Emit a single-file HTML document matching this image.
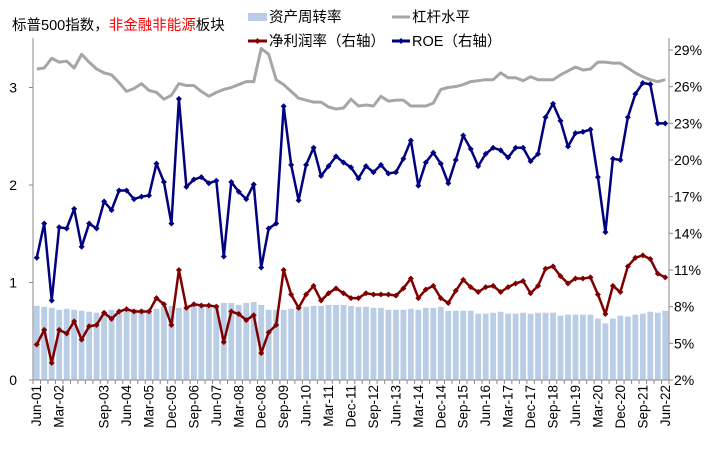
<!DOCTYPE html>
<html><head><meta charset="utf-8">
<style>
html,body{margin:0;padding:0;background:#fff;}
svg{display:block;font-family:"Liberation Sans","Noto Sans CJK SC",sans-serif;}
</style></head>
<body>
<svg id="chart" width="723" height="455" viewBox="0 0 723 455">
<text x="12" y="30" font-size="14.5" fill="#000">标普500指数，<tspan fill="#ff0000">非金融非能源</tspan>板块</text>
<g>
<rect x="248" y="13" width="19" height="8" fill="#b9cde6"/>
<text x="269" y="22" font-size="14.5">资产周转率</text>
<line x1="392" y1="17" x2="410" y2="17" stroke="#a6a6a6" stroke-width="3"/>
<text x="412" y="22" font-size="14.5">杠杆水平</text>
<line x1="248" y1="41" x2="267" y2="41" stroke="#800000" stroke-width="3"/>
<path d="M257.5 38 L260.5 41 L257.5 44 L254.5 41Z" fill="#800000"/>
<text x="269" y="46" font-size="14.5">净利润率（右轴）</text>
<line x1="392" y1="41" x2="410" y2="41" stroke="#000080" stroke-width="3"/>
<path d="M401 38 L404 41 L401 44 L398 41Z" fill="#000080"/>
<text x="412" y="46" font-size="14.5">ROE（右轴）</text>
</g>
<g id="plot"></g>
</svg>
<script>
const categories = (function(){const m=['Mar','Jun','Sep','Dec'];const out=[];let q=1,y=1;for(let i=0;i<85;i++){out.push(m[q]+'-'+String(y).padStart(2,'0'));q++;if(q>3){q=0;y++;}}return out;})();
const assetTurnover = [0.76,0.75,0.74,0.72,0.73,0.72,0.71,0.70,0.69,0.70,0.72,0.71,0.72,0.73,0.73,0.72,0.73,
0.76,0.76,0.74,0.74,0.76,0.76,0.76,0.77,0.79,0.79,0.77,0.79,0.80,0.77,0.72,0.72,0.72,0.73,0.75,0.75,0.76,0.76,0.77,0.77,
0.77,0.76,0.75,0.75,0.74,0.74,0.72,0.72,0.72,0.73,0.72,0.74,0.74,0.75,0.71,0.71,0.71,0.71,0.68,0.68,0.69,0.70,0.68,0.68,0.69,0.68,0.69,0.69,0.69,0.66,0.67,0.67,0.67,0.67,0.63,0.58,0.63,0.66,0.65,0.67,0.68,0.70,0.69,0.71];
const leverage = [3.19,3.20,3.30,3.26,3.27,3.20,3.34,3.26,3.19,3.15,3.13,3.05,2.96,2.99,3.04,2.97,2.95,2.88,2.92,3.04,3.02,3.02,2.96,2.91,2.95,2.98,3.00,3.03,3.06,3.06,3.40,3.34,3.08,3.03,2.96,2.89,2.87,2.85,2.85,2.80,2.78,
2.79,2.88,2.81,2.82,2.81,2.91,2.86,2.87,2.87,2.81,2.81,2.81,2.84,2.98,3.00,3.01,3.03,3.06,3.07,3.08,3.08,3.15,3.10,3.10,3.07,3.11,3.08,3.08,3.08,3.13,3.17,3.21,3.18,3.19,3.26,3.26,3.25,3.25,3.20,3.15,3.11,3.08,3.06,3.08];
const netMargin = [4.9,6.1,3.4,6.1,5.8,6.8,5.3,6.4,6.5,7.5,7.0,7.6,7.8,7.6,7.6,7.6,8.7,8.2,6.5,11.0,7.9,8.2,8.1,8.1,8.0,5.1,7.6,7.4,6.9,7.3,4.2,5.9,6.5,11.0,9.0,7.9,9.0,9.7,8.5,9.1,9.5,
9.1,8.7,8.7,9.1,9.0,9.0,9.0,8.9,9.5,10.3,8.7,9.4,9.7,8.7,8.3,9.3,10.2,9.6,9.2,9.6,9.7,9.2,9.6,9.9,10.1,9.1,9.7,11.1,11.3,10.5,9.9,10.3,10.3,10.4,9.0,7.4,9.7,9.2,11.3,12.0,12.2,11.9,10.7,10.4];
const roe = [12.0,14.8,8.5,14.5,14.4,16.0,12.9,14.8,14.4,16.6,15.9,17.5,17.5,16.8,17.0,17.1,19.7,18.2,14.8,25.0,17.8,18.4,18.6,18.1,18.3,12.1,18.2,17.4,16.8,18.0,11.2,14.4,14.8,24.4,19.6,16.7,19.6,21.0,18.7,19.5,20.3,
19.8,19.4,18.5,19.5,19.0,19.6,18.9,19.0,20.1,21.6,17.9,19.8,20.6,19.7,18.1,20.0,22.0,20.9,19.5,20.5,21.0,20.8,20.2,21.0,21.0,19.9,20.5,23.5,24.6,23.2,21.1,22.2,22.3,22.5,18.6,14.1,20.1,20.0,23.5,25.4,26.3,26.2,23.0,23.0];
const leftTicks = [0,1,2,3];
const rightTicks = [2,5,8,11,14,17,20,23,26,29];

const X0=33,X1=669,Y0=380;
const n=categories.length, bw=(X1-X0)/n;
function xPos(i){return X0+bw*(i+0.5);}
function yL(v){return Y0-v*97.5;}
function yR(v){return Y0-(v-2)*(330/27);}
const NS='http://www.w3.org/2000/svg';
const plot=document.getElementById('plot');
function mk(tag,attrs,parent){const e=document.createElementNS(NS,tag);for(const k in attrs)e.setAttribute(k,attrs[k]);(parent||plot).appendChild(e);return e;}

// bars
const gb=mk('g',{});


assetTurnover.forEach((v,i)=>{
  const r=mk('rect',{x:xPos(i)-2.9,y:yL(v),width:5.8,height:Y0-yL(v),fill:'#b9cde6'},gb);
  
  
});
// axes
const ax=mk('g',{stroke:'#888','stroke-width':1});


mk('line',{x1:X0,y1:38,x2:X0,y2:Y0},ax);
mk('line',{x1:X1,y1:38,x2:X1,y2:Y0},ax);
mk('line',{x1:X0,y1:Y0,x2:X1,y2:Y0},ax);
leftTicks.forEach(t=>{
  mk('line',{x1:X0-4,y1:yL(t),x2:X0,y2:yL(t)},ax);
  const tx=mk('text',{x:17,y:yL(t)+5,'font-size':14,'text-anchor':'end',fill:'#000',stroke:'none'});
  tx.textContent=t;
  
  
});
rightTicks.forEach(t=>{
  mk('line',{x1:X1,y1:yR(t),x2:X1+4,y2:yR(t)},ax);
  const tx=mk('text',{x:674,y:yR(t)+5,'font-size':14,fill:'#000',stroke:'none'});
  tx.textContent=t+'%';
  
  
});
for(let i=0;i<=n;i++){mk('line',{x1:X0+bw*i,y1:Y0,x2:X0+bw*i,y2:Y0+4},ax);}
categories.forEach((c,i)=>{
  if(i%3!==0||i===6)return;
  const x=xPos(i)+4.5,y=Y0+5;
  const tx=mk('text',{x:x,y:y,'font-size':13.5,'text-anchor':'end',fill:'#000',transform:`rotate(-90 ${x} ${y})`});
  tx.textContent=c;
  
  
});
function line(vals,yf,color,w,name,marker){
  const pts=vals.map((v,i)=>xPos(i).toFixed(2)+','+yf(v).toFixed(2)).join(' ');
  const g=mk('g',{});
  
  
  mk('polyline',{points:pts,fill:'none',stroke:color,'stroke-width':w,'stroke-linejoin':'round'},g);
  if(marker){vals.forEach((v,i)=>{const x=xPos(i),y=yf(v);
    const p=mk('path',{d:`M${x} ${y-3}L${x+3} ${y}L${x} ${y+3}L${x-3} ${y}Z`,fill:color},g);
    
    });}
}
line(leverage,yL,'#a6a6a6',3,'leverage-line',false);
line(netMargin,yR,'#800000',2.5,'net-margin-line',true);
line(roe,yR,'#000080',2.5,'roe-line',true);
</script>
</body></html>
